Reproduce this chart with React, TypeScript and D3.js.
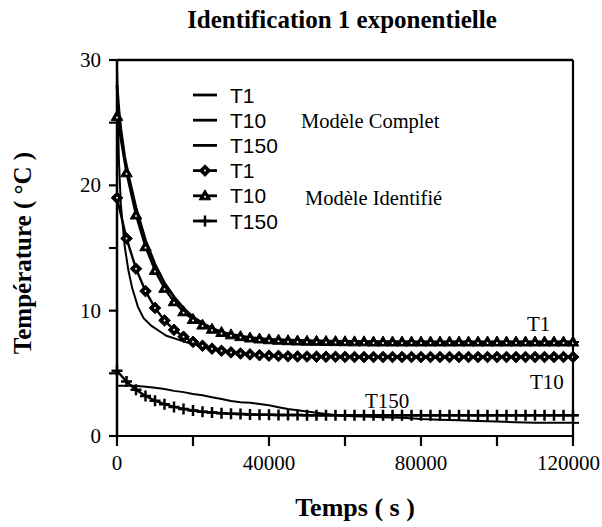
import React from "react";
import * as d3 from "d3";

const title = "Identification 1 exponentielle";
const xLabel = "Temps ( s )";
const yLabel = "Température ( °C )";
const xTicks = [0, 20000, 40000, 60000, 80000, 100000, 120000];
const xTickLabels = [0, 40000, 80000, 120000];
const yTicks = [0, 5, 10, 15, 20, 25, 30];
const yTickLabels = [0, 10, 20, 30];

// Identified model, sampled every 2500 s
const idTimes = d3.range(0, 120001, 2500);
const idT1 = [19.0, 15.76, 13.35, 11.56, 10.22, 9.22, 8.47, 7.92, 7.51, 7.2, 6.97, 6.8, 6.67, 6.58, 6.51, 6.45, 6.41, 6.39, 6.36, 6.35, 6.34, 6.33, 6.32, 6.32, 6.31,
  6.3, 6.3, 6.3, 6.3, 6.3, 6.3, 6.3, 6.3, 6.3, 6.3, 6.3, 6.3, 6.3, 6.3, 6.3, 6.3, 6.3, 6.3, 6.3, 6.3, 6.3, 6.3, 6.3, 6.3];
const idT10 = [25.5, 21.0, 17.63, 15.1, 13.21, 11.78, 10.71, 9.91, 9.3, 8.85, 8.52, 8.26, 8.07, 7.93, 7.82, 7.74, 7.68, 7.64, 7.6, 7.58, 7.56, 7.55, 7.54, 7.53, 7.52, 7.51, 7.51,
  7.5, 7.5, 7.5, 7.5, 7.5, 7.5, 7.5, 7.5, 7.5, 7.5, 7.5, 7.5, 7.5, 7.5, 7.5, 7.5, 7.5, 7.5, 7.5, 7.5, 7.5, 7.5];
const idT150 = [5.2, 4.34, 3.69, 3.19, 2.82, 2.54, 2.32, 2.16, 2.03, 1.94, 1.87, 1.82, 1.78, 1.75, 1.72, 1.7, 1.69, 1.68, 1.67, 1.67, 1.66, 1.66,
  1.65, 1.65, 1.65, 1.65, 1.65, 1.65, 1.65, 1.65, 1.65, 1.65, 1.65, 1.65, 1.65, 1.65, 1.65, 1.65, 1.65, 1.65, 1.65, 1.65, 1.65, 1.65, 1.65, 1.65, 1.65, 1.65, 1.65];

// Complete model
const cT1Times = [0, 500, 1000, 2000, 3000, 4000, 5500, 7000, 9000, 11000, 13000, 15500, 18000, 21000, 24000, 27000, 30000, 35000, 40000, 45000, 50000, 60000, 80000, 100000, 120000];
const cT1 = [29.5, 22, 18.5, 15.2, 13.2, 11.8, 10.3, 9.4, 8.8, 8.4, 8.0, 7.75, 7.5, 7.25, 7.05, 6.85, 6.7, 6.5, 6.42, 6.38, 6.35, 6.32, 6.3, 6.3, 6.3];
const cT10Times = [0, 500, 1000, 2000, 3000, 5000, 7500, 10000, 12500, 15000, 17500, 20000, 22500, 25000, 27500, 30000, 35000, 40000, 50000, 60000, 80000, 100000, 120000];
const cT10 = [28, 26, 24.5, 22.3, 20.8, 18.2, 15.6, 13.7, 12.2, 11.1, 10.2, 9.5, 9.0, 8.6, 8.3, 8.1, 7.85, 7.7, 7.6, 7.55, 7.5, 7.5, 7.5];
const cT150Times = [0, 4000, 7000, 10000, 12500, 15000, 17500, 20000, 22500, 25000, 27500, 30000, 32500, 35000, 37500, 40000, 42500, 45000, 47500, 50000, 55000, 60000, 65000, 70000, 75000, 80000, 85000, 90000, 95000, 100000, 105000, 110000, 115000, 120000];
const cT150 = [4.0, 4.0, 3.95, 3.85, 3.75, 3.6, 3.5, 3.35, 3.25, 3.1, 2.95, 2.8, 2.7, 2.65, 2.55, 2.45, 2.3, 2.15, 2.05, 1.95, 1.75, 1.6, 1.55, 1.5, 1.45, 1.35, 1.3, 1.25, 1.2, 1.15, 1.1, 1.05, 1.05, 1.05];

const legendLabels = ["T1", "T10", "T150", "T1", "T10", "T150"];
const legendMarkers = ["none", "none", "none", "diamond", "triangle", "plus"];
const groupLabels = ["Modèle Complet", "Modèle Identifié"];
const endLabels = ["T1", "T10", "T150"];

const W = 602, H = 527;
const x = d3.scaleLinear().domain([0, 120000]).range([117, 573]);
const y = d3.scaleLinear().domain([0, 30]).range([436, 60]);
const serif = "'Liberation Serif', 'Times New Roman', serif";
const sans = "'Liberation Sans', Arial, sans-serif";

function Marker({ kind, cx, cy }: { kind: string; cx: number; cy: number }) {
  if (kind === "diamond") {
    return (
      <g>
        <path d={`M${cx - 5.8},${cy} L${cx},${cy - 5.8} L${cx + 5.8},${cy} L${cx},${cy + 5.8} Z`} fill="#000" stroke="#000" strokeWidth={1} />
        <circle cx={cx} cy={cy} r={1} fill="#fff" />
      </g>
    );
  }
  if (kind === "triangle") {
    return (
      <g>
        <path d={`M${cx - 5.8},${cy + 4} L${cx},${cy - 6} L${cx + 5.8},${cy + 4} Z`} fill="#000" stroke="#000" strokeWidth={1} />
        <circle cx={cx} cy={cy + 1} r={1} fill="#fff" />
      </g>
    );
  }
  if (kind === "plus") {
    return (
      <path d={`M${cx - 5.5},${cy} H${cx + 5.5} M${cx},${cy - 5.5} V${cy + 5.5}`} stroke="#000" strokeWidth={2.5} />
    );
  }
  return null;
}

export default function App() {
  const line = d3.line<[number, number]>().x((d) => x(d[0])).y((d) => y(d[1]));
  const zip = (ts: number[], vs: number[]) => ts.map((t, i) => [t, vs[i]] as [number, number]);
  const idSeries = [
    { vals: idT1, kind: "diamond" },
    { vals: idT10, kind: "triangle" },
    { vals: idT150, kind: "plus" },
  ];
  const cSeries = [
    { t: cT1Times, v: cT1, w: 2 },
    { t: cT10Times, v: cT10, w: 2.8 },
    { t: cT150Times, v: cT150, w: 2 },
  ];
  const legendY = d3.scalePoint<number>().domain(d3.range(6)).range([95, 221]);
  return (
    <svg width={W} height={H} style={{ position: "absolute", left: 0, top: 0, background: "#fff" }}>
      <text x={342} y={28} textAnchor="middle" fontFamily={serif} fontWeight="bold" fontSize={25}>{title}</text>
      {/* frame */}
      <line x1={x(0)} x2={x(120000)} y1={y(30)} y2={y(30)} stroke="#000" strokeWidth={2.5} />
      <line x1={x(0)} x2={x(0)} y1={y(30)} y2={y(0)} stroke="#000" strokeWidth={2.5} />
      <line x1={x(120000)} x2={x(120000)} y1={y(30)} y2={y(0)} stroke="#000" strokeWidth={2.2} />
      <line x1={x(0)} x2={x(120000)} y1={y(0)} y2={y(0)} stroke="#000" strokeWidth={2.2} />
      {yTicks.map((t) => (
        <line key={"yt" + t} x1={x(0) - 8} x2={x(0)} y1={y(t)} y2={y(t)} stroke="#000" strokeWidth={2.2} />
      ))}
      {yTickLabels.map((t) => (
        <text key={"yl" + t} x={101} y={y(t) + 7} textAnchor="end" fontFamily={serif} fontSize={21}>{t}</text>
      ))}
      {xTicks.map((t) => (
        <line key={"xt" + t} x1={x(t)} x2={x(t)} y1={y(0)} y2={y(0) + 10} stroke="#000" strokeWidth={2.2} />
      ))}
      {xTickLabels.map((t, i) => {
        const isLast = i === xTickLabels.length - 1;
        return (
          <text key={"xl" + t} x={isLast ? W - 2 : x(t)} y={470} textAnchor={isLast ? "end" : "middle"} fontFamily={serif} fontSize={21}>{t}</text>
        );
      })}
      <text x={355} y={516} textAnchor="middle" fontFamily={serif} fontWeight="bold" fontSize={26}>{xLabel}</text>
      <text transform="translate(31,253) rotate(-90)" textAnchor="middle" fontFamily={serif} fontWeight="bold" fontSize={25}>{yLabel}</text>

      {/* complete model lines */}
      {cSeries.map((s, i) => {
        const pts = zip(s.t, s.v);
        const last = pts[pts.length - 1];
        return (
          <g key={"c" + i}>
            <path d={line(pts) || ""} fill="none" stroke="#000" strokeWidth={s.w} />
            <line x1={x(last[0])} x2={x(last[0]) + 6} y1={y(last[1])} y2={y(last[1])} stroke="#000" strokeWidth={2} />
          </g>
        );
      })}
      {/* identified model */}
      {idSeries.map((s, i) => {
        const pts = zip(idTimes, s.vals);
        const last = pts[pts.length - 1];
        return (
          <g key={"id" + i}>
            <path d={line(pts) || ""} fill="none" stroke="#000" strokeWidth={2.4} />
            {pts.map((p, j) => (
              <Marker key={j} kind={s.kind} cx={x(p[0])} cy={y(p[1])} />
            ))}
            <line x1={x(last[0])} x2={x(last[0]) + 6} y1={y(last[1])} y2={y(last[1])} stroke="#000" strokeWidth={2} />
          </g>
        );
      })}

      {/* legend */}
      {legendLabels.map((l, i) => (
        <g key={"lg" + i}>
          <line x1={193} x2={217} y1={legendY(i)} y2={legendY(i)} stroke="#000" strokeWidth={2.8} />
          <Marker kind={legendMarkers[i]} cx={205} cy={legendY(i)!} />
          <text x={230} y={(legendY(i) as number) + 7.5} fontFamily={sans} fontSize={21}>{l}</text>
        </g>
      ))}
      <text x={301} y={128} fontFamily={serif} fontSize={20.5}>{groupLabels[0]}</text>
      <text x={305} y={205} fontFamily={serif} fontSize={20.5}>{groupLabels[1]}</text>

      {/* end annotations */}
      <text x={527} y={331} fontFamily={serif} fontSize={21}>{endLabels[0]}</text>
      <text x={530} y={389} fontFamily={serif} fontSize={21}>{endLabels[1]}</text>
      <text x={365} y={408} fontFamily={serif} fontSize={21}>{endLabels[2]}</text>
    </svg>
  );
}
